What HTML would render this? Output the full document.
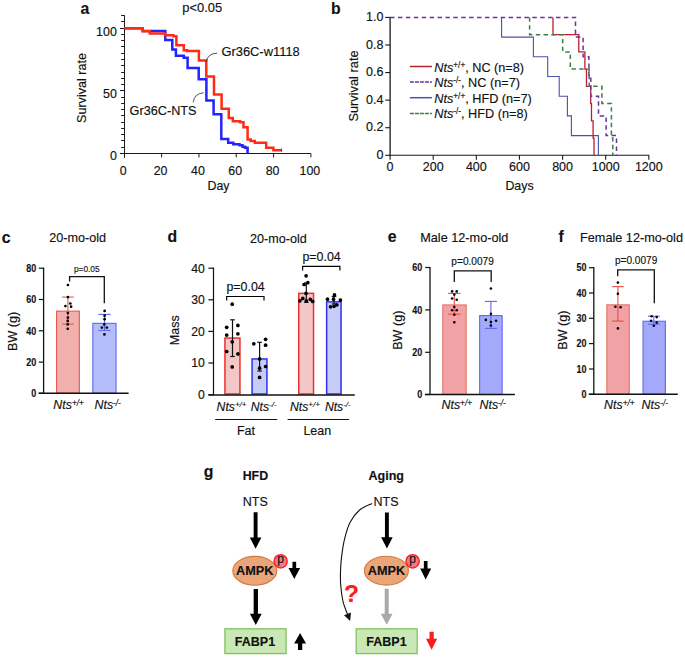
<!DOCTYPE html>
<html><head><meta charset="utf-8"><style>
html,body{margin:0;padding:0;background:#fff;}
svg{display:block;font-family:"Liberation Sans", sans-serif;}
text{stroke-width:0.15px;}
</style></head><body>
<svg width="685" height="658" viewBox="0 0 685 658">
<rect width="685" height="658" fill="#fff"/>
<text x="80.4" y="14.1" font-size="15.8" font-weight="bold" text-anchor="start" fill="#111"  stroke="#111">a</text>
<text x="182.3" y="11.9" font-size="12.9" text-anchor="start" fill="#111"  stroke="#111">p&lt;0.05</text>
<line x1="124.5" y1="15.2" x2="124.5" y2="157.6" stroke="#1a1a1a" stroke-width="1.0" />
<line x1="120.0" y1="153.5" x2="124.5" y2="153.5" stroke="#1a1a1a" stroke-width="1.0" />
<line x1="121.2" y1="147.5" x2="124.5" y2="147.5" stroke="#1a1a1a" stroke-width="1.0" />
<line x1="121.2" y1="140.5" x2="124.5" y2="140.5" stroke="#1a1a1a" stroke-width="1.0" />
<line x1="121.2" y1="134.5" x2="124.5" y2="134.5" stroke="#1a1a1a" stroke-width="1.0" />
<line x1="121.2" y1="128.5" x2="124.5" y2="128.5" stroke="#1a1a1a" stroke-width="1.0" />
<line x1="121.2" y1="122.5" x2="124.5" y2="122.5" stroke="#1a1a1a" stroke-width="1.0" />
<line x1="121.2" y1="115.5" x2="124.5" y2="115.5" stroke="#1a1a1a" stroke-width="1.0" />
<line x1="121.2" y1="109.5" x2="124.5" y2="109.5" stroke="#1a1a1a" stroke-width="1.0" />
<line x1="121.2" y1="103.5" x2="124.5" y2="103.5" stroke="#1a1a1a" stroke-width="1.0" />
<line x1="121.2" y1="97.5" x2="124.5" y2="97.5" stroke="#1a1a1a" stroke-width="1.0" />
<line x1="120.0" y1="90.5" x2="124.5" y2="90.5" stroke="#1a1a1a" stroke-width="1.0" />
<line x1="121.2" y1="84.5" x2="124.5" y2="84.5" stroke="#1a1a1a" stroke-width="1.0" />
<line x1="121.2" y1="78.5" x2="124.5" y2="78.5" stroke="#1a1a1a" stroke-width="1.0" />
<line x1="121.2" y1="72.5" x2="124.5" y2="72.5" stroke="#1a1a1a" stroke-width="1.0" />
<line x1="121.2" y1="65.5" x2="124.5" y2="65.5" stroke="#1a1a1a" stroke-width="1.0" />
<line x1="121.2" y1="59.5" x2="124.5" y2="59.5" stroke="#1a1a1a" stroke-width="1.0" />
<line x1="121.2" y1="53.5" x2="124.5" y2="53.5" stroke="#1a1a1a" stroke-width="1.0" />
<line x1="121.2" y1="46.5" x2="124.5" y2="46.5" stroke="#1a1a1a" stroke-width="1.0" />
<line x1="121.2" y1="40.5" x2="124.5" y2="40.5" stroke="#1a1a1a" stroke-width="1.0" />
<line x1="121.2" y1="34.5" x2="124.5" y2="34.5" stroke="#1a1a1a" stroke-width="1.0" />
<line x1="120.0" y1="28.5" x2="124.5" y2="28.5" stroke="#1a1a1a" stroke-width="1.0" />
<line x1="121.2" y1="21.5" x2="124.5" y2="21.5" stroke="#1a1a1a" stroke-width="1.0" />
<line x1="121.2" y1="15.5" x2="124.5" y2="15.5" stroke="#1a1a1a" stroke-width="1.0" />
<line x1="124.5" y1="153.5" x2="310.90000000000003" y2="153.5" stroke="#1a1a1a" stroke-width="1.0" />
<line x1="124.5" y1="153.5" x2="124.5" y2="157.4" stroke="#1a1a1a" stroke-width="1.0" />
<text x="123.3" y="174.8" font-size="12.4" text-anchor="middle" fill="#111"  stroke="#111">0</text>
<line x1="161.62" y1="153.5" x2="161.62" y2="157.4" stroke="#1a1a1a" stroke-width="1.0" />
<text x="160.62" y="174.8" font-size="12.4" text-anchor="middle" fill="#111"  stroke="#111">20</text>
<line x1="198.94" y1="153.5" x2="198.94" y2="157.4" stroke="#1a1a1a" stroke-width="1.0" />
<text x="197.94" y="174.8" font-size="12.4" text-anchor="middle" fill="#111"  stroke="#111">40</text>
<line x1="236.26" y1="153.5" x2="236.26" y2="157.4" stroke="#1a1a1a" stroke-width="1.0" />
<text x="235.26" y="174.8" font-size="12.4" text-anchor="middle" fill="#111"  stroke="#111">60</text>
<line x1="273.58" y1="153.5" x2="273.58" y2="157.4" stroke="#1a1a1a" stroke-width="1.0" />
<text x="272.58" y="174.8" font-size="12.4" text-anchor="middle" fill="#111"  stroke="#111">80</text>
<line x1="310.9" y1="153.5" x2="310.9" y2="157.4" stroke="#1a1a1a" stroke-width="1.0" />
<text x="309.9" y="174.8" font-size="12.4" text-anchor="middle" fill="#111"  stroke="#111">100</text>
<text x="116.8" y="35.8" font-size="12.4" text-anchor="end" fill="#111"  stroke="#111">100</text>
<text x="116.8" y="98.0" font-size="12.4" text-anchor="end" fill="#111"  stroke="#111">50</text>
<text x="116.8" y="160.2" font-size="12.4" text-anchor="end" fill="#111"  stroke="#111">0</text>
<text x="218.5" y="189.5" font-size="12.4" text-anchor="middle" fill="#111"  stroke="#111">Day</text>
<text transform="translate(86.2,88) rotate(-90)" font-size="12.6" text-anchor="middle" fill="#111" stroke="#111">Survival rate</text>
<path d="M124.3,28.2 H142.7 V30.9 H165.3 V39.9 H172.3 V49.6 H175.9 V55.8 H183.8 V57.8 H187.6 V68 H198.7 V79.3 H206.4 V100.4 H213.6 V114.3 H221.3 V139.1 H228.2 V142.7 H233.3 V144.2 H239.5 V145.2 H242.5 V146.7 H245.1 V147.8 H247.6 V153.5" fill="none" stroke="#2323ff" stroke-width="2.5" stroke-linejoin="miter"/>
<path d="M124.3,28.2 H142.7 V31.3 H149.8 V33.6 H165.1 V35.3 H173.3 V36.3 H176.4 V45.2 H183.8 V50.3 H187.1 V50.9 H198.9 V60.5 H206.3 V76.6 H214 V94.5 H221.6 V108.8 H228.8 V118.1 H232.8 V121.2 H240 V122.2 H243.5 V127.3 H247.6 V139.6 H250.7 V141.1 H254.8 V142.7 H266.2 V147.8 H273.4 V150.3 H281.6" fill="none" stroke="#ff2b17" stroke-width="2.5" stroke-linejoin="miter"/>
<line x1="281.6" y1="148.5" x2="281.6" y2="151.8" stroke="#222" stroke-width="0.8" />
<text x="221.4" y="56.0" font-size="12.9" text-anchor="start" fill="#111"  stroke="#111">Gr36C-w1118</text>
<text x="129.6" y="114.6" font-size="12.7" text-anchor="start" fill="#111"  stroke="#111">Gr36C-NTS</text>
<path d="M206.4,61.8 Q207.2,53.6 217.2,53.2" fill="none" stroke="#222" stroke-width="0.8"/>
<path d="M193.2,102.2 Q194.5,93.4 203.6,92.8" fill="none" stroke="#222" stroke-width="0.8"/>
<text x="331.0" y="14.2" font-size="15.8" font-weight="bold" text-anchor="start" fill="#111"  stroke="#111">b</text>
<line x1="390.1" y1="17.0" x2="390.1" y2="155.8" stroke="#1a1a1a" stroke-width="1.3" />
<line x1="389.5" y1="155.3" x2="649.2" y2="155.3" stroke="#1a1a1a" stroke-width="1.1" />
<line x1="385.20000000000005" y1="155.3" x2="390.1" y2="155.3" stroke="#1a1a1a" stroke-width="1.1" />
<text x="383.5" y="159.0" font-size="12.5" text-anchor="end" fill="#111"  stroke="#111">0</text>
<line x1="385.20000000000005" y1="127.72" x2="390.1" y2="127.72" stroke="#1a1a1a" stroke-width="1.1" />
<text x="383.5" y="131.42" font-size="12.5" text-anchor="end" fill="#111"  stroke="#111">0.2</text>
<line x1="385.20000000000005" y1="100.14" x2="390.1" y2="100.14" stroke="#1a1a1a" stroke-width="1.1" />
<text x="383.5" y="103.84" font-size="12.5" text-anchor="end" fill="#111"  stroke="#111">0.4</text>
<line x1="385.20000000000005" y1="72.56" x2="390.1" y2="72.56" stroke="#1a1a1a" stroke-width="1.1" />
<text x="383.5" y="76.26" font-size="12.5" text-anchor="end" fill="#111"  stroke="#111">0.6</text>
<line x1="385.20000000000005" y1="44.98" x2="390.1" y2="44.98" stroke="#1a1a1a" stroke-width="1.1" />
<text x="383.5" y="48.68" font-size="12.5" text-anchor="end" fill="#111"  stroke="#111">0.8</text>
<line x1="385.20000000000005" y1="17.4" x2="390.1" y2="17.4" stroke="#1a1a1a" stroke-width="1.1" />
<text x="383.5" y="21.1" font-size="12.5" text-anchor="end" fill="#111"  stroke="#111">1.0</text>
<line x1="390.1" y1="155.3" x2="390.1" y2="159.70000000000002" stroke="#1a1a1a" stroke-width="1.1" />
<text x="390.1" y="171.3" font-size="12.5" text-anchor="middle" fill="#111"  stroke="#111">0</text>
<line x1="433.22" y1="155.3" x2="433.22" y2="159.70000000000002" stroke="#1a1a1a" stroke-width="1.1" />
<text x="433.22" y="171.3" font-size="12.5" text-anchor="middle" fill="#111"  stroke="#111">200</text>
<line x1="476.34" y1="155.3" x2="476.34" y2="159.70000000000002" stroke="#1a1a1a" stroke-width="1.1" />
<text x="476.34" y="171.3" font-size="12.5" text-anchor="middle" fill="#111"  stroke="#111">400</text>
<line x1="519.46" y1="155.3" x2="519.46" y2="159.70000000000002" stroke="#1a1a1a" stroke-width="1.1" />
<text x="519.46" y="171.3" font-size="12.5" text-anchor="middle" fill="#111"  stroke="#111">600</text>
<line x1="562.58" y1="155.3" x2="562.58" y2="159.70000000000002" stroke="#1a1a1a" stroke-width="1.1" />
<text x="562.58" y="171.3" font-size="12.5" text-anchor="middle" fill="#111"  stroke="#111">800</text>
<line x1="605.7" y1="155.3" x2="605.7" y2="159.70000000000002" stroke="#1a1a1a" stroke-width="1.1" />
<text x="605.7" y="171.3" font-size="12.5" text-anchor="middle" fill="#111"  stroke="#111">1000</text>
<line x1="648.82" y1="155.3" x2="648.82" y2="159.70000000000002" stroke="#1a1a1a" stroke-width="1.1" />
<text x="648.82" y="171.3" font-size="12.5" text-anchor="middle" fill="#111"  stroke="#111">1200</text>
<text x="519.5" y="190.4" font-size="12.4" text-anchor="middle" fill="#111"  stroke="#111">Days</text>
<text transform="translate(357.7,86.0) rotate(-90)" font-size="12.8" text-anchor="middle" fill="#111" stroke="#111">Survival rate</text>
<path d="M501.6,17.4 H501.6 V37.1 H533.4 V56.8 H547.7 V76.5 H559.2 V96.2 H567.4 V115.9 H571.4 V135.6 H598.4 V155.3" fill="none" stroke="#4a52a8" stroke-width="1.1"/>
<path d="M553.0,17.4 H553.0 V34.64 H578.8 V51.88 H584.9 V69.11 H586.5 V86.35 H590.7 V103.59 H591.5 V120.83 H593.1 V138.06 H594 V155.3" fill="none" stroke="#b8202f" stroke-width="1.3"/>
<path d="M529.6,17.4 H529.6 V34.64 H562.7 V51.88 H570.3 V69.11 H589.2 V86.35 H601.9 V103.59 H611.4 V138.06 H612.8 V155.3" fill="none" stroke="#3a7e46" stroke-width="1.5" stroke-dasharray="4.4,3.4"/>
<path d="M390.1,17.4 H575.5 V37.1 H583.1 V56.8 H588.9 V76.5 H590.8 V96.2 H598.5 V115.9 H606.1 V135.6 H616.5 V155.3" fill="none" stroke="#6f2fa0" stroke-width="1.5" stroke-dasharray="4.5,3.4"/>
<line x1="409.9" y1="66.5" x2="431.9" y2="66.5" stroke="#b8202f" stroke-width="1.5"/>
<text x="434.3" y="71.5" font-size="12.7" fill="#111" stroke="#111"><tspan font-style="italic">Nts</tspan><tspan font-size="8.2" dy="-4.0">+/+</tspan><tspan dy="4.0">, NC (n=8)</tspan></text>
<line x1="409.9" y1="82.0" x2="431.9" y2="82.0" stroke="#6f2fa0" stroke-width="1.5" stroke-dasharray="4,1"/>
<text x="434.3" y="87.0" font-size="12.7" fill="#111" stroke="#111"><tspan font-style="italic">Nts</tspan><tspan font-size="8.2" dy="-4.0">-/-</tspan><tspan dy="4.0">, NC (n=7)</tspan></text>
<line x1="409.9" y1="97.7" x2="431.9" y2="97.7" stroke="#4a52a8" stroke-width="1.5"/>
<text x="434.3" y="102.7" font-size="12.7" fill="#111" stroke="#111"><tspan font-style="italic">Nts</tspan><tspan font-size="8.2" dy="-4.0">+/+</tspan><tspan dy="4.0">, HFD (n=7)</tspan></text>
<line x1="409.9" y1="113.4" x2="431.9" y2="113.4" stroke="#3a7e46" stroke-width="1.5" stroke-dasharray="4,1"/>
<text x="434.3" y="118.4" font-size="12.7" fill="#111" stroke="#111"><tspan font-style="italic">Nts</tspan><tspan font-size="8.2" dy="-4.0">-/-</tspan><tspan dy="4.0">, HFD (n=8)</tspan></text>
<text x="1.7" y="242.6" font-size="15.8" font-weight="bold" text-anchor="start" fill="#111"  stroke="#111">c</text>
<text x="77.7" y="241.8" font-size="12.6" text-anchor="middle" fill="#111"  stroke="#111">20-mo-old</text>
<text transform="translate(16.6,331.4) rotate(-90)" font-size="12.6" text-anchor="middle" fill="#111" stroke="#111">BW (g)</text>
<rect x="56.55" y="311.15000000000003" width="22.800000000000004" height="82.14999999999999" fill="#f1b0ae" stroke="#e6584d" stroke-width="1.1"/>
<rect x="92.85" y="323.35" width="23.199999999999996" height="69.95" fill="#b5befa" stroke="#5b69f0" stroke-width="1.1"/>
<line x1="43.6" y1="267.6" x2="43.6" y2="393.3" stroke="#111" stroke-width="1.3" />
<line x1="38.6" y1="393.3" x2="128.6" y2="393.3" stroke="#111" stroke-width="1.5" />
<line x1="38.800000000000004" y1="268.2" x2="43.6" y2="268.2" stroke="#111" stroke-width="1.2" />
<text x="36.2" y="271.91" font-size="10.3" font-weight="bold" text-anchor="end" fill="#111"  textLength="10.0" lengthAdjust="spacingAndGlyphs" stroke="#111">80</text>
<line x1="38.800000000000004" y1="299.5" x2="43.6" y2="299.5" stroke="#111" stroke-width="1.2" />
<text x="36.2" y="303.21" font-size="10.3" font-weight="bold" text-anchor="end" fill="#111"  textLength="10.0" lengthAdjust="spacingAndGlyphs" stroke="#111">60</text>
<line x1="38.800000000000004" y1="330.8" x2="43.6" y2="330.8" stroke="#111" stroke-width="1.2" />
<text x="36.2" y="334.51" font-size="10.3" font-weight="bold" text-anchor="end" fill="#111"  textLength="10.0" lengthAdjust="spacingAndGlyphs" stroke="#111">40</text>
<line x1="38.800000000000004" y1="362.1" x2="43.6" y2="362.1" stroke="#111" stroke-width="1.2" />
<text x="36.2" y="365.81" font-size="10.3" font-weight="bold" text-anchor="end" fill="#111"  textLength="10.0" lengthAdjust="spacingAndGlyphs" stroke="#111">20</text>
<line x1="38.800000000000004" y1="393.3" x2="43.6" y2="393.3" stroke="#111" stroke-width="1.2" />
<text x="36.2" y="397.01" font-size="10.3" font-weight="bold" text-anchor="end" fill="#111"  textLength="5.0" lengthAdjust="spacingAndGlyphs" stroke="#111">0</text>
<line x1="67.9" y1="297.1" x2="67.9" y2="324.1" stroke="#e6584d" stroke-width="1.1" />
<line x1="62.050000000000004" y1="297.1" x2="73.75" y2="297.1" stroke="#e6584d" stroke-width="1.1" />
<line x1="62.050000000000004" y1="324.1" x2="73.75" y2="324.1" stroke="#e6584d" stroke-width="1.1" />
<line x1="104.5" y1="314.4" x2="104.5" y2="330.4" stroke="#5b69f0" stroke-width="1.1" />
<line x1="98.3" y1="314.4" x2="110.7" y2="314.4" stroke="#5b69f0" stroke-width="1.1" />
<line x1="98.3" y1="330.4" x2="110.7" y2="330.4" stroke="#5b69f0" stroke-width="1.1" />
<circle cx="67.9" cy="285" r="1.35" fill="#000"/>
<circle cx="67.9" cy="297.1" r="1.35" fill="#000"/>
<circle cx="65.4" cy="306.1" r="1.35" fill="#000"/>
<circle cx="70.3" cy="303.5" r="1.35" fill="#000"/>
<circle cx="71.1" cy="306.7" r="1.35" fill="#000"/>
<circle cx="67.9" cy="313.1" r="1.35" fill="#000"/>
<circle cx="67.9" cy="317.6" r="1.35" fill="#000"/>
<circle cx="67.7" cy="320.9" r="1.35" fill="#000"/>
<circle cx="67.7" cy="324.4" r="1.35" fill="#000"/>
<circle cx="67.7" cy="328.8" r="1.35" fill="#000"/>
<circle cx="104.6" cy="310.9" r="1.35" fill="#000"/>
<circle cx="104.6" cy="315.7" r="1.35" fill="#000"/>
<circle cx="104.6" cy="319.2" r="1.35" fill="#000"/>
<circle cx="104.3" cy="324.4" r="1.35" fill="#000"/>
<circle cx="106.8" cy="327.6" r="1.35" fill="#000"/>
<circle cx="101.9" cy="327.6" r="1.35" fill="#000"/>
<circle cx="104.4" cy="334.4" r="1.35" fill="#000"/>
<path d="M69.6,281.6 V276.7 H104.3 V303.2" fill="none" stroke="#111" stroke-width="1.3"/>
<text x="86.8" y="271.9" font-size="9.2" text-anchor="middle" fill="#111"  textLength="25.6" lengthAdjust="spacingAndGlyphs" stroke="#111">p=0.05</text>
<text x="53.3" y="409.4" font-size="12.4" font-style="italic" fill="#111" stroke="#111">Nts<tspan font-size="8.2" dy="-3.6">+/+</tspan></text>
<text x="94.5" y="409.4" font-size="12.4" font-style="italic" fill="#111" stroke="#111">Nts<tspan font-size="8.2" dy="-3.6">-/-</tspan></text>
<text x="167.5" y="242.1" font-size="15.8" font-weight="bold" text-anchor="start" fill="#111"  stroke="#111">d</text>
<text x="278.4" y="243.0" font-size="12.6" text-anchor="middle" fill="#111"  stroke="#111">20-mo-old</text>
<text transform="translate(179.4,330.3) rotate(-90)" font-size="12.5" text-anchor="middle" fill="#111" stroke="#111">Mass</text>
<line x1="213.5" y1="267.6" x2="213.5" y2="395.0" stroke="#111" stroke-width="1.2" />
<line x1="208.4" y1="268.2" x2="213.5" y2="268.2" stroke="#111" stroke-width="1.2" />
<text x="204.9" y="272.6" font-size="12.2" text-anchor="end" fill="#111"  stroke="#111">40</text>
<line x1="208.4" y1="299.8" x2="213.5" y2="299.8" stroke="#111" stroke-width="1.2" />
<text x="204.9" y="304.2" font-size="12.2" text-anchor="end" fill="#111"  stroke="#111">30</text>
<line x1="208.4" y1="331.4" x2="213.5" y2="331.4" stroke="#111" stroke-width="1.2" />
<text x="204.9" y="335.8" font-size="12.2" text-anchor="end" fill="#111"  stroke="#111">20</text>
<line x1="208.4" y1="363.0" x2="213.5" y2="363.0" stroke="#111" stroke-width="1.2" />
<text x="204.9" y="367.4" font-size="12.2" text-anchor="end" fill="#111"  stroke="#111">10</text>
<line x1="208.4" y1="394.7" x2="213.5" y2="394.7" stroke="#111" stroke-width="1.2" />
<text x="204.9" y="399.1" font-size="12.2" text-anchor="end" fill="#111"  stroke="#111">0</text>
<rect x="224.95" y="338.05" width="15.0" height="55.94999999999999" fill="#f3c7c5" stroke="#ec2f2f" stroke-width="1.5"/>
<rect x="252.05" y="358.95" width="14.899999999999977" height="35.05000000000001" fill="#c5cdf7" stroke="#2f2ff2" stroke-width="1.5"/>
<rect x="298.75" y="293.35" width="14.800000000000011" height="100.64999999999998" fill="#f3c7c5" stroke="#ec2f2f" stroke-width="1.5"/>
<rect x="326.65" y="301.85" width="14.400000000000034" height="92.14999999999998" fill="#c5cdf7" stroke="#2f2ff2" stroke-width="1.5"/>
<line x1="208.4" y1="395.0" x2="354.8" y2="395.0" stroke="#111" stroke-width="1.4" />
<line x1="232.5" y1="319.8" x2="232.5" y2="356.5" stroke="#111" stroke-width="1.2" />
<line x1="230.2" y1="319.8" x2="234.8" y2="319.8" stroke="#111" stroke-width="1.2" />
<line x1="230.2" y1="356.5" x2="234.8" y2="356.5" stroke="#111" stroke-width="1.2" />
<line x1="259.6" y1="342.3" x2="259.6" y2="371.0" stroke="#111" stroke-width="1.2" />
<line x1="257.3" y1="342.3" x2="261.90000000000003" y2="342.3" stroke="#111" stroke-width="1.2" />
<line x1="257.3" y1="371.0" x2="261.90000000000003" y2="371.0" stroke="#111" stroke-width="1.2" />
<line x1="306.3" y1="283.0" x2="306.3" y2="302.3" stroke="#111" stroke-width="1.2" />
<line x1="304.0" y1="283.0" x2="308.6" y2="283.0" stroke="#111" stroke-width="1.2" />
<line x1="304.0" y1="302.3" x2="308.6" y2="302.3" stroke="#111" stroke-width="1.2" />
<line x1="334.0" y1="296.5" x2="334.0" y2="304.0" stroke="#111" stroke-width="1.2" />
<line x1="331.7" y1="296.5" x2="336.3" y2="296.5" stroke="#111" stroke-width="1.2" />
<line x1="331.7" y1="304.0" x2="336.3" y2="304.0" stroke="#111" stroke-width="1.2" />
<circle cx="232.2" cy="304.2" r="1.85" fill="#000"/>
<circle cx="226.7" cy="327.3" r="1.85" fill="#000"/>
<circle cx="237.9" cy="325.4" r="1.85" fill="#000"/>
<circle cx="226.7" cy="335.1" r="1.85" fill="#000"/>
<circle cx="237.9" cy="333.8" r="1.85" fill="#000"/>
<circle cx="232.2" cy="341.8" r="1.85" fill="#000"/>
<circle cx="226.7" cy="351.5" r="1.85" fill="#000"/>
<circle cx="237.9" cy="353.9" r="1.85" fill="#000"/>
<circle cx="232.2" cy="366.9" r="1.85" fill="#000"/>
<circle cx="253.8" cy="343.8" r="1.85" fill="#000"/>
<circle cx="265.6" cy="339.3" r="1.85" fill="#000"/>
<circle cx="265.6" cy="345.2" r="1.85" fill="#000"/>
<circle cx="259.6" cy="358.9" r="1.85" fill="#000"/>
<circle cx="265.6" cy="366.5" r="1.85" fill="#000"/>
<circle cx="259.6" cy="368.2" r="1.85" fill="#000"/>
<circle cx="259.6" cy="377.4" r="1.85" fill="#000"/>
<circle cx="306.1" cy="275.8" r="1.85" fill="#000"/>
<circle cx="307.8" cy="282.7" r="1.85" fill="#000"/>
<circle cx="304.1" cy="284.5" r="1.85" fill="#000"/>
<circle cx="306.0" cy="293.4" r="1.85" fill="#000"/>
<circle cx="302.8" cy="298.4" r="1.85" fill="#000"/>
<circle cx="299.9" cy="300.8" r="1.85" fill="#000"/>
<circle cx="306.3" cy="300.8" r="1.85" fill="#000"/>
<circle cx="310.3" cy="299.3" r="1.85" fill="#000"/>
<circle cx="312.7" cy="301.5" r="1.85" fill="#000"/>
<circle cx="334.5" cy="294.9" r="1.85" fill="#000"/>
<circle cx="327.5" cy="299.2" r="1.85" fill="#000"/>
<circle cx="333.5" cy="299.2" r="1.85" fill="#000"/>
<circle cx="340.4" cy="300.1" r="1.85" fill="#000"/>
<circle cx="336.9" cy="304.8" r="1.85" fill="#000"/>
<circle cx="334.0" cy="306.3" r="1.85" fill="#000"/>
<circle cx="330.5" cy="306.8" r="1.85" fill="#000"/>
<path d="M226.7,300.5 V296.5 H264.0 V300.5" fill="none" stroke="#000" stroke-width="1.2"/>
<path d="M302.6,270.4 V266.4 H339.9 V270.4" fill="none" stroke="#000" stroke-width="1.2"/>
<text x="245.6" y="291.4" font-size="12.4" text-anchor="middle" fill="#111"  stroke="#111">p=0.04</text>
<text x="321.6" y="260.8" font-size="12.4" text-anchor="middle" fill="#111"  stroke="#111">p=0.04</text>
<text x="216.6" y="410.8" font-size="12.2" font-style="italic" fill="#111" stroke="#111">Nts<tspan font-size="8.1" dy="-3.6">+/+</tspan></text>
<text x="250.8" y="410.8" font-size="12.2" font-style="italic" fill="#111" stroke="#111">Nts<tspan font-size="8.1" dy="-3.6">-/-</tspan></text>
<text x="290.0" y="410.8" font-size="12.2" font-style="italic" fill="#111" stroke="#111">Nts<tspan font-size="8.1" dy="-3.6">+/+</tspan></text>
<text x="324.9" y="410.8" font-size="12.2" font-style="italic" fill="#111" stroke="#111">Nts<tspan font-size="8.1" dy="-3.6">-/-</tspan></text>
<line x1="215.2" y1="419.5" x2="277.2" y2="419.5" stroke="#111" stroke-width="1.2" />
<line x1="287.6" y1="419.5" x2="349.1" y2="419.5" stroke="#111" stroke-width="1.2" />
<text x="246.0" y="434.6" font-size="12.5" text-anchor="middle" fill="#111"  stroke="#111">Fat</text>
<text x="317.3" y="434.6" font-size="12.5" text-anchor="middle" fill="#111"  stroke="#111">Lean</text>
<text x="387.7" y="241.8" font-size="15.8" font-weight="bold" text-anchor="start" fill="#111"  stroke="#111">e</text>
<text x="464.3" y="242.4" font-size="12.7" text-anchor="middle" fill="#111"  stroke="#111">Male 12-mo-old</text>
<text transform="translate(401.6,330.2) rotate(-90)" font-size="12.6" text-anchor="middle" fill="#111" stroke="#111">BW (g)</text>
<rect x="442.85" y="304.95" width="23.299999999999976" height="89.55000000000003" fill="#f1a2a5" stroke="#e8705f" stroke-width="1.1"/>
<rect x="479.65000000000003" y="315.55" width="22.499999999999964" height="78.95" fill="#a4a9fb" stroke="#5f67f4" stroke-width="1.1"/>
<line x1="430.0" y1="266.9" x2="430.0" y2="394.5" stroke="#111" stroke-width="1.3" />
<line x1="425.0" y1="394.5" x2="514.9" y2="394.5" stroke="#111" stroke-width="1.5" />
<line x1="425.2" y1="267.5" x2="430.0" y2="267.5" stroke="#111" stroke-width="1.2" />
<text x="422.2" y="271.21" font-size="10.3" font-weight="bold" text-anchor="end" fill="#111"  textLength="10.0" lengthAdjust="spacingAndGlyphs" stroke="#111">60</text>
<line x1="425.2" y1="309.9" x2="430.0" y2="309.9" stroke="#111" stroke-width="1.2" />
<text x="422.2" y="313.61" font-size="10.3" font-weight="bold" text-anchor="end" fill="#111"  textLength="10.0" lengthAdjust="spacingAndGlyphs" stroke="#111">40</text>
<line x1="425.2" y1="352.3" x2="430.0" y2="352.3" stroke="#111" stroke-width="1.2" />
<text x="422.2" y="356.01" font-size="10.3" font-weight="bold" text-anchor="end" fill="#111"  textLength="10.0" lengthAdjust="spacingAndGlyphs" stroke="#111">20</text>
<line x1="425.2" y1="394.5" x2="430.0" y2="394.5" stroke="#111" stroke-width="1.2" />
<text x="422.2" y="398.21" font-size="10.3" font-weight="bold" text-anchor="end" fill="#111"  textLength="5.0" lengthAdjust="spacingAndGlyphs" stroke="#111">0</text>
<line x1="454.3" y1="293.4" x2="454.3" y2="314.2" stroke="#e4504a" stroke-width="1.1" />
<line x1="448.1" y1="293.4" x2="460.5" y2="293.4" stroke="#e4504a" stroke-width="1.1" />
<line x1="448.1" y1="314.2" x2="460.5" y2="314.2" stroke="#e4504a" stroke-width="1.1" />
<line x1="490.9" y1="301.4" x2="490.9" y2="328.4" stroke="#5f67f4" stroke-width="1.1" />
<line x1="484.84999999999997" y1="301.4" x2="496.95" y2="301.4" stroke="#5f67f4" stroke-width="1.1" />
<line x1="484.84999999999997" y1="328.4" x2="496.95" y2="328.4" stroke="#5f67f4" stroke-width="1.1" />
<circle cx="452.1" cy="291.4" r="1.3" fill="#000"/>
<circle cx="456.7" cy="291.4" r="1.3" fill="#000"/>
<circle cx="454.3" cy="294.6" r="1.3" fill="#000"/>
<circle cx="452.1" cy="298.5" r="1.3" fill="#000"/>
<circle cx="456.7" cy="299.8" r="1.3" fill="#000"/>
<circle cx="454.3" cy="307" r="1.3" fill="#000"/>
<circle cx="452.1" cy="310.2" r="1.3" fill="#000"/>
<circle cx="456.7" cy="310.2" r="1.3" fill="#000"/>
<circle cx="454.3" cy="314.7" r="1.3" fill="#000"/>
<circle cx="454.3" cy="322.3" r="1.3" fill="#000"/>
<circle cx="490.9" cy="288.5" r="1.3" fill="#000"/>
<circle cx="490.9" cy="313.9" r="1.3" fill="#000"/>
<circle cx="485.8" cy="319.9" r="1.3" fill="#000"/>
<circle cx="496.1" cy="320.7" r="1.3" fill="#000"/>
<circle cx="490.9" cy="322.0" r="1.3" fill="#000"/>
<circle cx="490.9" cy="325.5" r="1.3" fill="#000"/>
<path d="M454.3,282.1 V270.9 H491.2 V282.1" fill="none" stroke="#111" stroke-width="1.3"/>
<text x="472.6" y="264.9" font-size="10.6" text-anchor="middle" fill="#111"  textLength="42.5" lengthAdjust="spacingAndGlyphs" stroke="#111">p=0.0079</text>
<text x="441.5" y="409.4" font-size="12.4" font-style="italic" fill="#111" stroke="#111">Nts<tspan font-size="8.2" dy="-3.6">+/+</tspan></text>
<text x="479.5" y="409.4" font-size="12.4" font-style="italic" fill="#111" stroke="#111">Nts<tspan font-size="8.2" dy="-3.6">-/-</tspan></text>
<text x="558.4" y="242.0" font-size="15.8" font-weight="bold" text-anchor="start" fill="#111"  stroke="#111">f</text>
<text x="631.5" y="242.4" font-size="12.7" text-anchor="middle" fill="#111"  stroke="#111">Female 12-mo-old</text>
<text transform="translate(567.3,330.1) rotate(-90)" font-size="12.6" text-anchor="middle" fill="#111" stroke="#111">BW (g)</text>
<rect x="606.8499999999999" y="304.85" width="22.4" height="89.45" fill="#f1a2a5" stroke="#e8705f" stroke-width="1.1"/>
<rect x="643.05" y="321.25" width="22.299999999999976" height="73.05000000000003" fill="#a4a9fb" stroke="#5f67f4" stroke-width="1.1"/>
<line x1="593.8" y1="266.9" x2="593.8" y2="394.3" stroke="#111" stroke-width="1.3" />
<line x1="588.8" y1="394.3" x2="677.8" y2="394.3" stroke="#111" stroke-width="1.5" />
<line x1="589.0" y1="267.7" x2="593.8" y2="267.7" stroke="#111" stroke-width="1.2" />
<text x="586.6" y="271.41" font-size="10.3" font-weight="bold" text-anchor="end" fill="#111"  textLength="10.0" lengthAdjust="spacingAndGlyphs" stroke="#111">50</text>
<line x1="589.0" y1="293.0" x2="593.8" y2="293.0" stroke="#111" stroke-width="1.2" />
<text x="586.6" y="296.71" font-size="10.3" font-weight="bold" text-anchor="end" fill="#111"  textLength="10.0" lengthAdjust="spacingAndGlyphs" stroke="#111">40</text>
<line x1="589.0" y1="318.3" x2="593.8" y2="318.3" stroke="#111" stroke-width="1.2" />
<text x="586.6" y="322.01" font-size="10.3" font-weight="bold" text-anchor="end" fill="#111"  textLength="10.0" lengthAdjust="spacingAndGlyphs" stroke="#111">30</text>
<line x1="589.0" y1="343.6" x2="593.8" y2="343.6" stroke="#111" stroke-width="1.2" />
<text x="586.6" y="347.31" font-size="10.3" font-weight="bold" text-anchor="end" fill="#111"  textLength="10.0" lengthAdjust="spacingAndGlyphs" stroke="#111">20</text>
<line x1="589.0" y1="369.0" x2="593.8" y2="369.0" stroke="#111" stroke-width="1.2" />
<text x="586.6" y="372.71" font-size="10.3" font-weight="bold" text-anchor="end" fill="#111"  textLength="10.0" lengthAdjust="spacingAndGlyphs" stroke="#111">10</text>
<line x1="589.0" y1="394.3" x2="593.8" y2="394.3" stroke="#111" stroke-width="1.2" />
<text x="586.6" y="398.01" font-size="10.3" font-weight="bold" text-anchor="end" fill="#111"  textLength="5.0" lengthAdjust="spacingAndGlyphs" stroke="#111">0</text>
<line x1="617.9" y1="286.6" x2="617.9" y2="321.1" stroke="#e4504a" stroke-width="1.1" />
<line x1="612.05" y1="286.6" x2="623.75" y2="286.6" stroke="#e4504a" stroke-width="1.1" />
<line x1="612.05" y1="321.1" x2="623.75" y2="321.1" stroke="#e4504a" stroke-width="1.1" />
<line x1="653.8" y1="316.2" x2="653.8" y2="324.2" stroke="#5f67f4" stroke-width="1.1" />
<line x1="647.9499999999999" y1="316.2" x2="659.65" y2="316.2" stroke="#5f67f4" stroke-width="1.1" />
<line x1="647.9499999999999" y1="324.2" x2="659.65" y2="324.2" stroke="#5f67f4" stroke-width="1.1" />
<circle cx="617.9" cy="282.6" r="1.3" fill="#000"/>
<circle cx="617.9" cy="293.8" r="1.3" fill="#000"/>
<circle cx="615.4" cy="306.7" r="1.3" fill="#000"/>
<circle cx="620.6" cy="307.3" r="1.3" fill="#000"/>
<circle cx="617.9" cy="328.4" r="1.3" fill="#000"/>
<circle cx="651.6" cy="316.3" r="1.3" fill="#000"/>
<circle cx="656.7" cy="317.1" r="1.3" fill="#000"/>
<circle cx="651.1" cy="320.7" r="1.3" fill="#000"/>
<circle cx="656.7" cy="322.6" r="1.3" fill="#000"/>
<circle cx="653.8" cy="325.8" r="1.3" fill="#000"/>
<path d="M617.7,276.2 V269.8 H654.3 V303.3" fill="none" stroke="#111" stroke-width="1.3"/>
<text x="636.1" y="264.3" font-size="10.6" text-anchor="middle" fill="#111"  textLength="42.3" lengthAdjust="spacingAndGlyphs" stroke="#111">p=0.0079</text>
<text x="604.1" y="409.3" font-size="12.4" font-style="italic" fill="#111" stroke="#111">Nts<tspan font-size="8.2" dy="-3.6">+/+</tspan></text>
<text x="641.6" y="409.3" font-size="12.4" font-style="italic" fill="#111" stroke="#111">Nts<tspan font-size="8.2" dy="-3.6">-/-</tspan></text>
<text x="203.8" y="476.7" font-size="15.8" font-weight="bold" text-anchor="start" fill="#111"  stroke="#111">g</text>
<text x="255.4" y="480.3" font-size="12.4" font-weight="bold" text-anchor="middle" fill="#111"  stroke="#111">HFD</text>
<text x="386.3" y="480.3" font-size="12.5" font-weight="bold" text-anchor="middle" fill="#111"  stroke="#111">Aging</text>
<text x="255.3" y="506.4" font-size="12.5" text-anchor="middle" fill="#111"  stroke="#111">NTS</text>
<text x="386.1" y="506.4" font-size="12.5" text-anchor="middle" fill="#111"  stroke="#111">NTS</text>
<path d="M253.65,512.2 H257.55 V537.4 H261.4 L255.6,548.8 L249.79999999999998,537.4 H253.65 Z" fill="#000"/>
<ellipse cx="254.8" cy="570.8" rx="22.0" ry="14.4" fill="#e9a679" stroke="#d4793d" stroke-width="1.1"/>
<text x="254.7" y="575.0" font-size="12.7" font-weight="bold" text-anchor="middle" fill="#111"  stroke="#111">AMPK</text>
<circle cx="280.6" cy="561.3" r="6.6" fill="#f27a84" stroke="#ff2424" stroke-width="1.5"/>
<text x="280.7" y="563.2" font-size="12.0" text-anchor="middle" fill="#111"  stroke="#111">p</text>
<path d="M292.45,561.7 H296.15000000000003 V568.1 H300.1 L294.3,579.1 L288.5,568.1 H292.45 Z" fill="#000"/>
<path d="M253.65,588.9 H257.95 V613.8000000000001 H261.7 L255.8,625.1 L249.9,613.8000000000001 H253.65 Z" fill="#000"/>
<rect x="224.9" y="628.8" width="61.2" height="24.8" fill="#c9e8b6" stroke="#80c35f" stroke-width="1.3"/>
<text x="255.0" y="646.1" font-size="12.5" font-weight="bold" text-anchor="middle" fill="#111"  stroke="#111">FABP1</text>
<path d="M297.95000000000005,650.0 H302.25 V643.5 H306.05 L300.1,633.0 L294.15000000000003,643.5 H297.95000000000005 Z" fill="#000"/>
<path d="M384.95,512.4 H388.84999999999997 V537.2 H392.7 L386.9,548.6 L381.09999999999997,537.2 H384.95 Z" fill="#000"/>
<ellipse cx="386.4" cy="570.7" rx="22.0" ry="14.4" fill="#e9a679" stroke="#d4793d" stroke-width="1.1"/>
<text x="386.5" y="575.0" font-size="12.7" font-weight="bold" text-anchor="middle" fill="#111"  stroke="#111">AMPK</text>
<circle cx="412.6" cy="561.3" r="6.6" fill="#f27a84" stroke="#ff2424" stroke-width="1.5"/>
<text x="412.6" y="563.2" font-size="12.0" text-anchor="middle" fill="#111"  stroke="#111">p</text>
<path d="M423.84999999999997,561.0 H427.55 V568.4 H431.2 L425.7,579.4 L420.2,568.4 H423.84999999999997 Z" fill="#000"/>
<path d="M384.7,588.7 H388.7 V613.7 H392.55 L386.7,624.7 L380.84999999999997,613.7 H384.7 Z" fill="#a9a9a9"/>
<rect x="356.2" y="628.8" width="61.0" height="24.8" fill="#c9e8b6" stroke="#80c35f" stroke-width="1.3"/>
<text x="386.5" y="646.1" font-size="12.5" font-weight="bold" text-anchor="middle" fill="#111"  stroke="#111">FABP1</text>
<path d="M429.5,631.7 H433.70000000000005 V638.7 H437.20000000000005 L431.6,649.7 L426.0,638.7 H429.5 Z" fill="#ff1c1c"/>
<path d="M372.2,503.4 C370.10,504.50 363.30,506.83 359.6,510.0 C355.90,513.17 352.50,517.60 350.0,522.4 C347.50,527.20 346.00,533.10 344.6,538.8 C343.20,544.50 342.28,551.13 341.6,556.6 C340.92,562.07 340.65,566.87 340.5,571.6 C340.35,576.33 340.32,580.18 340.7,585.0 C341.08,589.82 341.98,596.42 342.8,600.5 C343.62,604.58 344.70,607.00 345.6,609.5 C346.50,612.00 347.77,614.50 348.2,615.5" fill="none" stroke="#111" stroke-width="1.1"/>
<path d="M350.1,620.9 L344.0,615.2 L351.0,612.5 Z" fill="#111"/>
<text x="351.6" y="601.8" font-size="24.5" font-weight="bold" text-anchor="middle" fill="#ff1c1c"  stroke="#ff1c1c">?</text>
</svg>
</body></html>
